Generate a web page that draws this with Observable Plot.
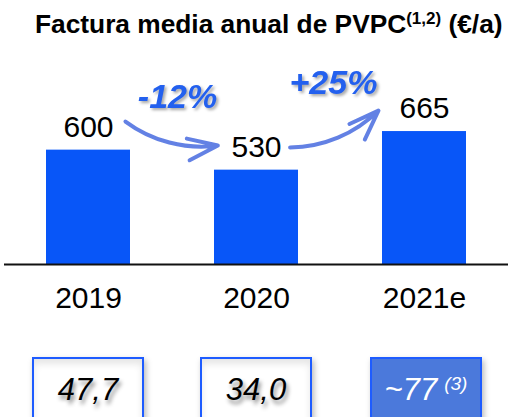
<!DOCTYPE html>
<html><head><meta charset="utf-8">
<script src="https://cdn.jsdelivr.net/npm/d3@7"></script>
<script src="https://cdn.jsdelivr.net/npm/@observablehq/plot@0.6"></script>
<style>
body{margin:0;background:#fff;font-family:"Liberation Sans",Arial,sans-serif;}
#wrap{position:relative;width:508px;height:417px;overflow:hidden;background:#fff;}
#title{position:absolute;left:35px;top:11px;font-size:26.3px;line-height:26px;font-weight:bold;white-space:nowrap;color:#000;}
#title sup{font-size:17px;position:relative;top:-9px;vertical-align:baseline;}
#chart{position:absolute;left:0;top:45px;}
.box{position:absolute;top:356.5px;width:108px;height:70px;border:2px solid #1e5cff;background:#fff;
 box-shadow:2px 3px 6px rgba(0,0,0,0.28), inset 0 5px 7px rgba(0,0,0,0.10);
 font-style:italic;font-size:31px;line-height:31px;text-align:center;padding-top:15px;box-sizing:content-box;color:#000;
 text-shadow:2px 4px 4px rgba(0,0,0,0.45);white-space:nowrap;}
.box.hl{background:#4b79db;color:#fff;text-shadow:none;box-shadow:2px 3px 6px rgba(0,0,0,0.28);}
.box .note{font-size:19px;position:relative;top:-10px;margin-left:7px;}
</style>
</head><body>
<div id="wrap">
  <div id="title">Factura media anual de PVPC<sup>(1,2)</sup> (€/a)</div>
  <div id="chart"></div>
</div>
<script>
const years = ["2019", "2020", "2021e"];
const bills = [600, 530, 665];
const changes = ["-12%", "+25%"];
const boxValues = ["47,7", "34,0", "~77"];
const boxNotes = ["", "", "(3)"];

const rows = years.map((y, i) => ({i, year: y, v: bills[i]}));
// annotation anchors in data units (x: category index, y: €/a)
const arrows = [
  {x1: 0.22, y1: 700, x2: 0.77, y2: 616},
  {x1: 1.20, y1: 609, x2: 1.726, y2: 738}
];
const changeLabels = [
  {x: 0.53, y: 749, t: changes[0]},
  {x: 1.458, y: 798, t: changes[1]}
];

const chart = Plot.plot({
  width: 508, height: 285,
  marginLeft: 4, marginRight: 0, marginTop: 0, marginBottom: 66,
  x: {type: "linear", domain: [-0.5, 2.5], axis: null},
  y: {domain: [200, 966], axis: null},
  style: {fontFamily: "Liberation Sans, Arial, sans-serif", color: "#000", background: "transparent", overflow: "visible"},
  marks: [
    Plot.rect(rows, {x1: d => d.i - 0.25, x2: d => d.i + 0.25, y1: 200, y2: "v", fill: "#0856f8"}),
    Plot.ruleY([200], {stroke: "#111", strokeWidth: 2}),
    Plot.axisX({ticks: [0, 1, 2], tickFormat: i => years[i], tickSize: 0, tickPadding: 21.7, fontSize: 30, fill: "#000"}),
    Plot.text(rows, {x: "i", y: "v", text: d => String(d.v), dy: -13.5, lineAnchor: "bottom", fontSize: 30, fill: "#000"}),
    Plot.arrow(arrows, {x1: "x1", y1: "y1", x2: "x2", y2: "y2", bend: -22, stroke: "#4d70e0", strokeOpacity: 0.88, strokeWidth: 4, headLength: 12, headAngle: 40, insetStart: 0, insetEnd: 0}),
    Plot.text(changeLabels, {x: "x", y: "y", text: "t", lineAnchor: "bottom", fontSize: 34, fontWeight: "bold", fontStyle: "italic", fill: "#2360ee"})
  ]
});
document.getElementById("chart").append(chart);
// soft drop shadow on the percentage labels
d3.select(chart).selectAll("text").filter(function () { return changes.includes(this.textContent); })
  .style("filter", "drop-shadow(2px 2px 1.5px rgba(0,0,0,0.35))");

const xs = chart.scale("x");
const wrap = document.getElementById("wrap");
boxValues.forEach((v, i) => {
  const b = document.createElement("div");
  b.className = "box" + (i === 2 ? " hl" : "");
  b.style.left = (xs.apply(i) - 56 + (i === 2 ? 2 : 0)) + "px";
  b.textContent = v;
  if (boxNotes[i]) {
    const s = document.createElement("span");
    s.className = "note";
    s.textContent = boxNotes[i];
    b.append(s);
  }
  wrap.append(b);
});
</script>
</body></html>
